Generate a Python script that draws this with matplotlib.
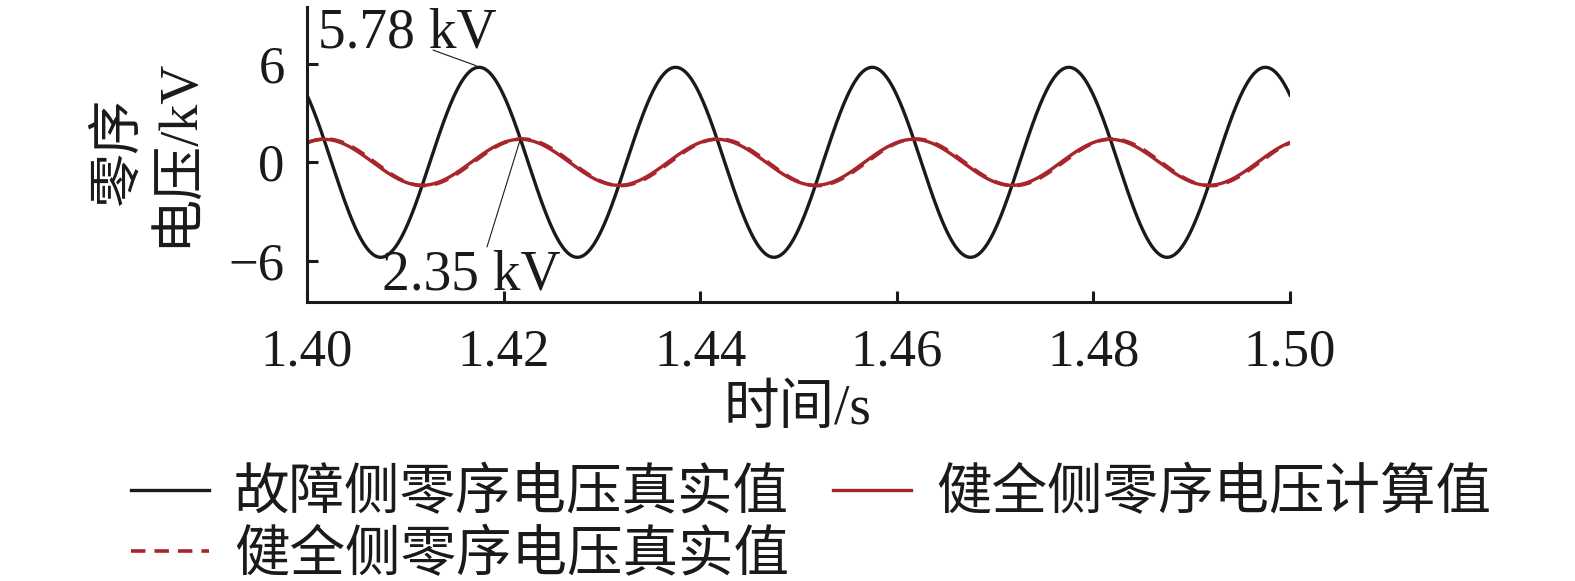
import numpy as np
import matplotlib
matplotlib.use("Agg")
import matplotlib.pyplot as plt

plt.rcParams['font.family'] = ['Liberation Serif', 'Noto Sans CJK SC']
plt.rcParams['axes.unicode_minus'] = True

# ---- data ----
freq_hz = 50.0
t_start, t_end = 1.40, 1.50
fault_amp_kv = 5.78          # 故障侧零序电压真实值 amplitude
fault_peak_t = 1.4175        # time of a positive peak
healthy_calc_amp_kv = 1.40   # 健全侧零序电压计算值 amplitude
healthy_calc_peak_t = 1.4217
healthy_true_amp_kv = 1.42   # 健全侧零序电压真实值 amplitude
healthy_true_peak_t = 1.4219

x_ticks = [1.40, 1.42, 1.44, 1.46, 1.48, 1.50]
x_tick_labels = ["1.40", "1.42", "1.44", "1.46", "1.48", "1.50"]
y_ticks = [-6, 0, 6]
y_tick_labels = ["\u22126", "0", "6"]

labels = ["故障侧零序电压真实值", "健全侧零序电压计算值", "健全侧零序电压真实值"]
annot_fault = "5.78 kV"
annot_healthy = "2.35 kV"

t = np.linspace(t_start, t_end, 2001)
w = 2 * np.pi * freq_hz
fault = fault_amp_kv * np.cos(w * (t - fault_peak_t))
healthy_calc = healthy_calc_amp_kv * np.cos(w * (t - healthy_calc_peak_t))
healthy_true = healthy_true_amp_kv * np.cos(w * (t - healthy_true_peak_t))

# ---- figure ----
W, H = 1575, 581
fig = plt.figure(figsize=(W / 100, H / 100), dpi=100)
ax_l, ax_r, ax_t, ax_b = 307, 1290, 7, 302
ax = fig.add_axes([ax_l / W, 1 - ax_b / H, (ax_r - ax_l) / W, (ax_b - ax_t) / H])

ink = '#1a1a1a'
red = '#A8262B'
l1, = ax.plot(t, fault, color=ink, lw=2.4, label=labels[0])
l3, = ax.plot(t, healthy_true, color=red, lw=2.6, ls=(0, (4, 2.5)), label=labels[2])
l2, = ax.plot(t, healthy_calc, color=red, lw=2.4, label=labels[1])

ax.set_xlim(t_start, t_end)
ax.set_ylim(-8.5, 9.45)
ax.set_xticks(x_ticks)
ax.set_xticklabels(x_tick_labels)
ax.set_yticks(y_ticks)
ax.set_yticklabels(y_tick_labels)
for s in ['top', 'right']:
    ax.spines[s].set_visible(False)
for s in ['left', 'bottom']:
    ax.spines[s].set_linewidth(2.2)
    ax.spines[s].set_color(ink)
ax.tick_params(axis='both', direction='in', length=8, width=2.2, colors=ink,
               labelsize=38, labelcolor=ink)
ax.tick_params(axis='x', pad=19)
ax.tick_params(axis='y', pad=16)

# annotations
ax.annotate('', xy=(fault_peak_t - 0.0003, fault_amp_kv + 0.1), xytext=(1.41282, 6.83),
            arrowprops=dict(arrowstyle='-', lw=0.8, color=ink, shrinkA=0, shrinkB=0))
ax.text(1.41022, 7.0, annot_fault, fontsize=40, ha='center', va='baseline', color=ink)
ax.annotate('', xy=(healthy_calc_peak_t, healthy_calc_amp_kv), xytext=(1.41831, -5.15),
            arrowprops=dict(arrowstyle='-', lw=0.8, color=ink, shrinkA=0, shrinkB=0))
ax.text(1.41668, -7.76, annot_healthy, fontsize=40, ha='center', va='baseline', color=ink)

# axis labels
fig.text(149 / W, 1 - 152 / H, "零序\n电压/kV", rotation=90, fontsize=39, ha='center',
         va='center', multialignment='center', linespacing=1.22, color=ink)
fig.text(797 / W, 1 - 410 / H, "时间/s", fontsize=40, ha='center', va='center', color=ink)

# legend
leg = fig.legend(handles=[l1, l3, l2], labels=[labels[0], labels[2], labels[1]], ncol=2,
                 loc='center', bbox_to_anchor=(811 / W, 1 - 526 / H), frameon=False,
                 fontsize=40, handlelength=1.4, handletextpad=0.45, columnspacing=0.8,
                 labelspacing=0.16, borderpad=0, borderaxespad=0)
for txt in leg.get_texts():
    txt.set_color(ink)

fig.savefig('out.png', dpi=100)
